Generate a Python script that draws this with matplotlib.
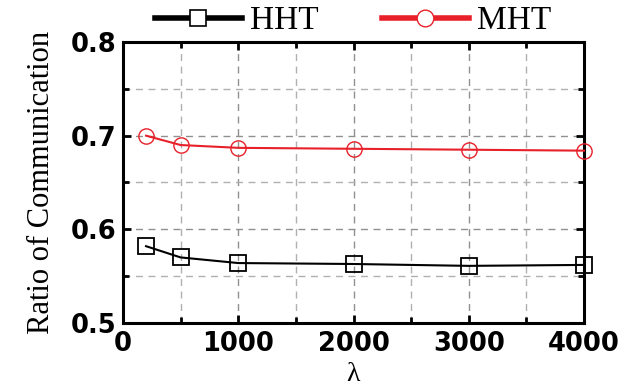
import numpy as np
import matplotlib.pyplot as plt
from matplotlib.lines import Line2D

lam = [200, 500, 1000, 2000, 3000, 4000]
hht = [0.582, 0.570, 0.564, 0.563, 0.561, 0.562]
mht = [0.700, 0.690, 0.687, 0.686, 0.685, 0.684]

fig = plt.figure(figsize=(6.24, 3.88), dpi=100)
ax = fig.add_axes([123 / 624, 1 - 323 / 388, 461 / 624, 281 / 388])

ax.plot(lam, hht, color='black', lw=1.5, marker='s', ms=11,
        mfc='none', mec='black', mew=1.3, clip_on=False, zorder=3)
ax.plot(lam, mht, color='#e8202a', lw=1.5, marker='o', ms=11,
        mfc='none', mec='#e8202a', mew=1.0, clip_on=False, zorder=3)

ax.set_xlim(0, 4000)
ax.set_ylim(0.5, 0.8)
ax.set_xticks([0, 1000, 2000, 3000, 4000])
ax.set_xticks(np.arange(500, 4000, 1000), minor=True)
ax.set_yticks([0.5, 0.6, 0.7, 0.8])
ax.set_yticks([0.55, 0.65, 0.75], minor=True)
ax.grid(True, which='major', ls=(0, (5, 4)), color='#909090', lw=1.0)
ax.grid(True, which='minor', ls=(0, (5, 4)), color='#b0b0b0', lw=1.0)
ax.tick_params(which='both', direction='in', width=2, top=True, right=True)
ax.tick_params(which='major', length=6)
ax.tick_params(which='minor', length=4)
for s in ax.spines.values():
    s.set_linewidth(2.2)

for lab in ax.get_xticklabels() + ax.get_yticklabels():
    lab.set_fontfamily('DejaVu Sans')
    lab.set_fontweight('bold')
    lab.set_fontsize(18.5)
ax.tick_params(axis='x', pad=6)
ax.tick_params(axis='y', pad=5)

# x label placed by baseline so the glyph sits right under the tick labels
fig.text(353 / 624, 1 - 381 / 388, 'λ', ha='center', va='baseline',
         fontfamily='Liberation Serif', fontsize=20)
ax.set_ylabel('Ratio of Communication', fontfamily='Liberation Serif',
              fontsize=22, labelpad=10)

handles = [
    Line2D([], [], color='black', lw=4, marker='s', ms=12, mfc='white',
           mec='black', mew=1.2),
    Line2D([], [], color='#e8202a', lw=4, marker='o', ms=12, mfc='white',
           mec='#e8202a', mew=1.0),
]
fig.legend(handles, ['HHT', 'MHT'], loc='center',
           bbox_to_anchor=(353 / 624, 1 - 21 / 388),
           ncol=2, frameon=False, handlelength=2.6, columnspacing=1.9,
           handletextpad=0.25, borderpad=0,
           prop={'family': 'Liberation Serif', 'size': 24})

fig.savefig('out.png', dpi=100)
